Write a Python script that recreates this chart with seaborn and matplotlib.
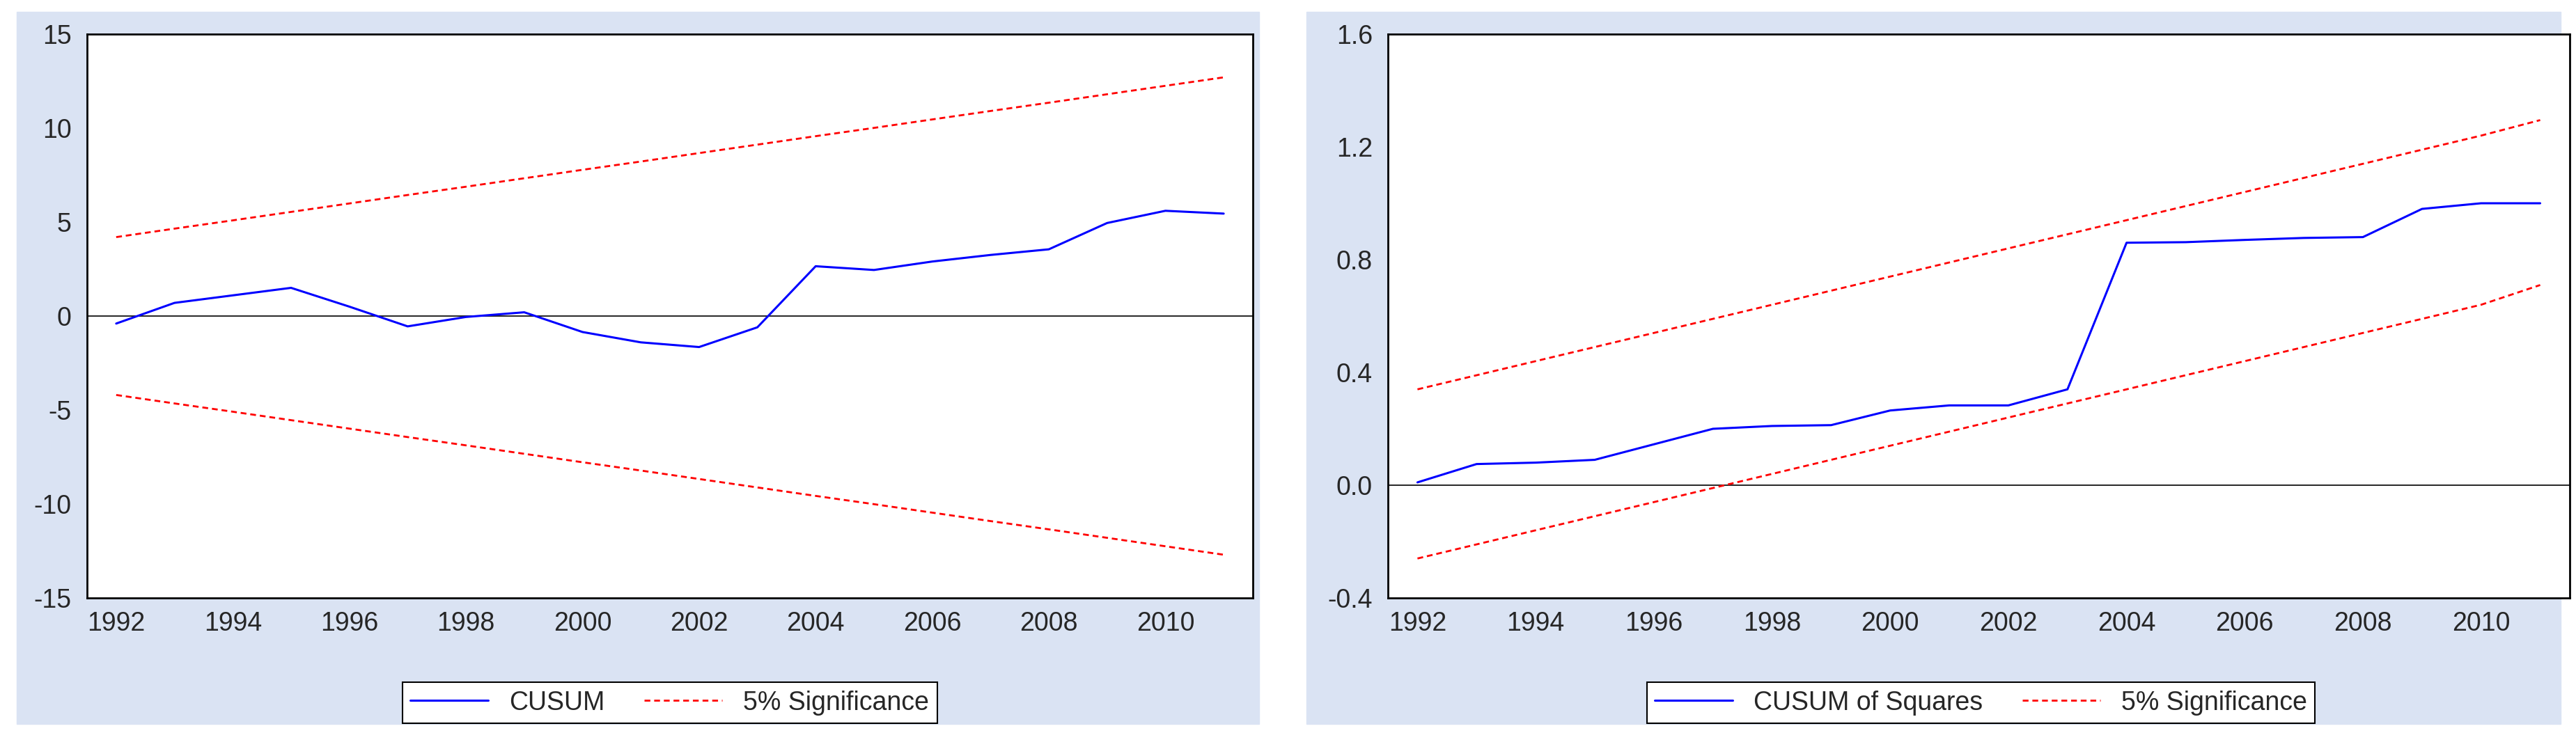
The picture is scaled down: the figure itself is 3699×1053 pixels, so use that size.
import numpy as np
import pandas as pd
import seaborn as sns
import matplotlib.pyplot as plt
from matplotlib.patches import Rectangle
from matplotlib.lines import Line2D
from matplotlib import font_manager

years = list(range(1992, 2012))
cusum = [-0.4, 0.7, 1.1, 1.5, 0.5, -0.55, -0.05, 0.2, -0.85, -1.4,
         -1.65, -0.6, 2.65, 2.45, 2.9, 3.25, 3.55, 4.95, 5.6, 5.45]
cusum_upper = [4.2, 4.65, 5.09, 5.54, 5.99, 6.44, 6.88, 7.33, 7.78, 8.22,
               8.67, 9.12, 9.57, 10.01, 10.46, 10.91, 11.35, 11.80, 12.25, 12.7]
cusum_lower = [-v for v in cusum_upper]

cusumsq = [0.01, 0.075, 0.08, 0.09, 0.145, 0.2, 0.21, 0.213, 0.265, 0.283,
           0.283, 0.34, 0.86, 0.862, 0.87, 0.877, 0.88, 0.98, 1.0, 1.0]
sq_upper = [0.34, 0.39, 0.44, 0.49, 0.54, 0.59, 0.64, 0.69, 0.74, 0.79,
            0.84, 0.89, 0.94, 0.99, 1.04, 1.09, 1.14, 1.19, 1.24, 1.295]
sq_lower = [-0.26, -0.21, -0.16, -0.11, -0.06, -0.01, 0.04, 0.09, 0.14, 0.19,
            0.24, 0.29, 0.34, 0.39, 0.44, 0.49, 0.54, 0.59, 0.64, 0.71]

names = {f.name for f in font_manager.fontManager.ttflist}
family = "Liberation Sans Narrow" if "Liberation Sans Narrow" in names else "Liberation Sans"
sns.set_style("white")
plt.rcParams["font.family"] = family

W, H = 3699, 1053
fig = plt.figure(figsize=(W / 100, H / 100), dpi=100)
bg = "#dae3f3"
fs = 27


def panel(bg_box, ax_box, leg_box, series, upper, lower, ylim, yticks, yfmt, label):
    x0, y0, x1, y1 = bg_box
    fig.patches.append(Rectangle((x0 / W, 1 - y1 / H), (x1 - x0) / W, (y1 - y0) / H,
                                 transform=fig.transFigure, color=bg, zorder=-5))
    ax0, ay0, ax1, ay1 = ax_box
    ax = fig.add_axes([ax0 / W, 1 - ay1 / H, (ax1 - ax0) / W, (ay1 - ay0) / H])
    ax.set_zorder(1)
    ax.set_facecolor("white")
    df = pd.DataFrame({"year": years, "v": series, "u": upper, "l": lower})
    ax.axhline(0, color="black", lw=1.2)
    sns.lineplot(data=df, x="year", y="v", ax=ax, color="blue", lw=2.2)
    sns.lineplot(data=df, x="year", y="u", ax=ax, color="red", lw=2, linestyle=(0, (3, 2)))
    sns.lineplot(data=df, x="year", y="l", ax=ax, color="red", lw=2, linestyle=(0, (3, 2)))
    ax.set_xlim(1991.5, 2011.5)
    ax.set_ylim(*ylim)
    ax.set_xticks(np.arange(1991.5, 2012, 1), minor=True)
    ax.set_xticks(years[::2])
    ax.set_xticklabels([str(y) for y in years[::2]], fontsize=fs)
    ax.tick_params(axis="x", which="major", length=0, pad=14)
    ax.tick_params(axis="x", which="minor", length=14, width=1.5, direction="out")
    ax.set_yticks(yticks)
    ax.set_yticklabels([yfmt(t) for t in yticks], fontsize=fs)
    ax.tick_params(axis="y", length=12, width=1.5, direction="out", pad=4)
    ax.set_xlabel("")
    ax.set_ylabel("")
    for s in ax.spines.values():
        s.set_linewidth(2)
        s.set_color("black")
    lx0, ly0, lx1, ly1 = leg_box
    handles = [Line2D([], [], color="blue", lw=2.2),
               Line2D([], [], color="red", lw=2, linestyle=(0, (3, 2)))]
    leg = fig.legend(handles, [label, "5% Significance"], ncol=2, fontsize=fs,
                     loc="center", bbox_to_anchor=((lx0 + lx1) / 2 / W, 1 - (ly0 + ly1) / 2 / H),
                     frameon=True, fancybox=False, edgecolor="black", framealpha=1,
                     handlelength=3, columnspacing=1.5, borderpad=0.3)
    leg.get_frame().set_linewidth(1.5)
    return ax


panel((24, 17, 1808, 1040), (125, 49, 1799, 859), (546, 979, 1377, 1040),
      cusum, cusum_upper, cusum_lower, (-15, 15), [-15, -10, -5, 0, 5, 10, 15],
      lambda t: str(t), "CUSUM")
panel((1876, 17, 3677, 1040), (1993, 49, 3690, 859), (2301, 979, 3388, 1040),
      cusumsq, sq_upper, sq_lower, (-0.4, 1.6), [-0.4, 0.0, 0.4, 0.8, 1.2, 1.6],
      lambda t: f"{t:.1f}", "CUSUM of Squares")

fig.savefig("out.png", dpi=100)
